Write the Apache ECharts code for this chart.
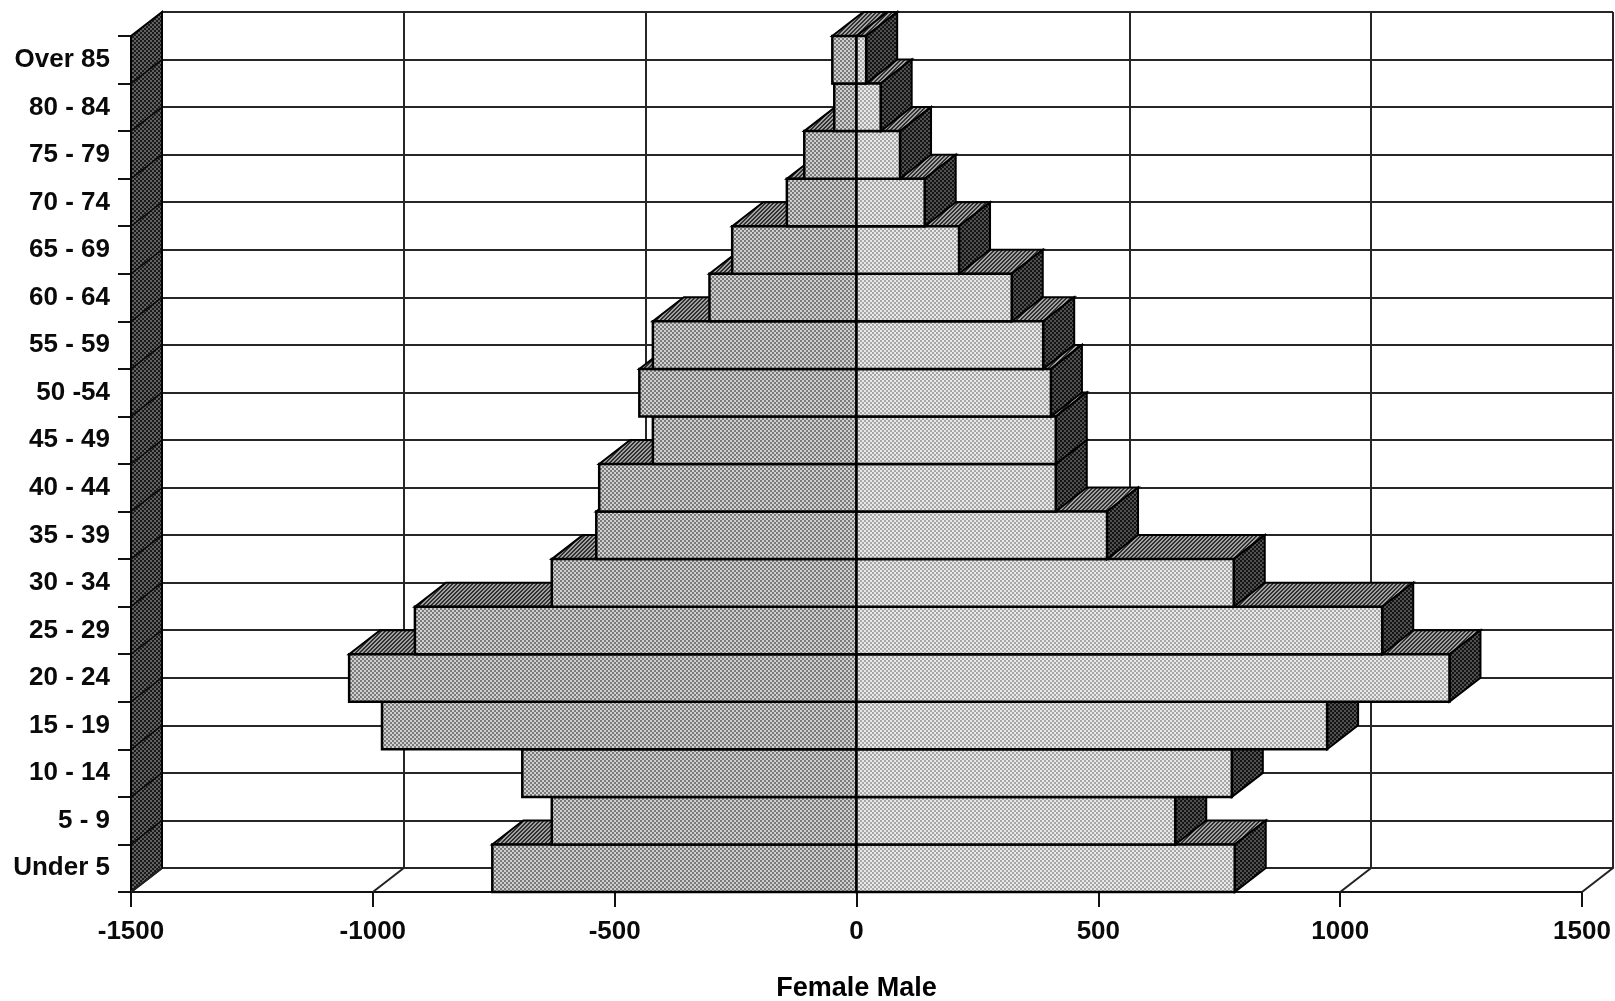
<!DOCTYPE html>
<html>
<head>
<meta charset="utf-8">
<title>Population by age and sex</title>
<script src="https://cdn.jsdelivr.net/npm/echarts@6/dist/echarts.min.js"></script>
<style>
  html, body { margin: 0; padding: 0; background: #fff; }
  #chart { width: 1615px; height: 1001px; }
</style>
</head>
<body>
<div id="chart"></div>
<script>
// Age groups, listed from the bottom row to the top row
const ageGroups = ['Under 5', '5 - 9', '10 - 14', '15 - 19', '20 - 24', '25 - 29',
  '30 - 34', '35 - 39', '40 - 44', '45 - 49', '50 -54', '55 - 59', '60 - 64',
  '65 - 69', '70 - 74', '75 - 79', '80 - 84', 'Over 85'];

// Female counts are plotted to the left of zero
const female = [-753, -630, -691, -981, -1049, -913, -630, -538, -532, -421,
  -449, -421, -304, -257, -144, -108, -46, -50];

const male = [782, 659, 776, 973, 1226, 1087, 780, 518, 412, 412,
  402, 386, 321, 212, 141, 90, 50, 20];

const xTicks = [-1500, -1000, -500, 0, 500, 1000, 1500];

// Oblique projection of the depth axis (pixels)
const DEPTH_DX = 31;
const DEPTH_DY = -24;

const FONT = '"Liberation Sans", Arial, Helvetica, sans-serif';

// Halftone-like fills built from tiny canvas tiles
function checker(dark, light, cell) {
  const cv = document.createElement('canvas');
  cv.width = cv.height = cell * 2;
  const ctx = cv.getContext('2d');
  ctx.fillStyle = light; ctx.fillRect(0, 0, cell * 2, cell * 2);
  ctx.fillStyle = dark;
  ctx.fillRect(0, 0, cell, cell);
  ctx.fillRect(cell, cell, cell, cell);
  return { image: cv, repeat: 'repeat' };
}
function hatch(dark, light) {
  const n = 4;
  const cv = document.createElement('canvas');
  cv.width = cv.height = n;
  const ctx = cv.getContext('2d');
  ctx.fillStyle = light; ctx.fillRect(0, 0, n, n);
  ctx.fillStyle = dark;
  for (let i = 0; i < n; i++) {
    ctx.fillRect(i, n - 1 - i, 1, 1);
    ctx.fillRect((i + 1) % n, n - 1 - i, 1, 1);
  }
  return { image: cv, repeat: 'repeat' };
}

const fillFemale = checker('#7a7a7a', '#d0d0d0', 2);
const fillMale = checker('#a6a6a6', '#e8e8e8', 2);
const fillTop = hatch('#303030', '#a0a0a0');
const fillSide = checker('#141414', '#505050', 2);
const fillWall = checker('#1a1a1a', '#606060', 2);

const EDGE = '#000';

function bandBounds(api, idx) {
  const h = api.size([0, 1])[1];
  const c = api.coord([0, idx]);
  return [c[1] - h / 2, c[1] + h / 2];
}

function renderBar(isMale) {
  return function (params, api) {
    const v = api.value(0);
    const idx = api.value(1);
    const [yt, yb] = bandBounds(api, idx);
    const x0 = api.coord([0, idx])[0];
    const x1 = api.coord([v, idx])[0];
    const xa = Math.min(x0, x1), xb = Math.max(x0, x1);
    const z = params.dataIndex * 4;
    const children = [
      {
        type: 'polygon', z2: z,
        shape: { points: [[xa, yt], [xb, yt], [xb + DEPTH_DX, yt + DEPTH_DY], [xa + DEPTH_DX, yt + DEPTH_DY]] },
        style: { fill: fillTop, stroke: EDGE, lineWidth: 2, lineJoin: 'miter' }
      },
      {
        type: 'rect', z2: z + 2,
        shape: { x: xa, y: yt, width: xb - xa, height: yb - yt },
        style: { fill: isMale ? fillMale : fillFemale, stroke: EDGE, lineWidth: 2.5 }
      }
    ];
    if (isMale) {
      children.push({
        type: 'polygon', z2: z + 1,
        shape: { points: [[xb, yt], [xb, yb], [xb + DEPTH_DX, yb + DEPTH_DY], [xb + DEPTH_DX, yt + DEPTH_DY]] },
        style: { fill: fillSide, stroke: EDGE, lineWidth: 2 }
      });
    }
    return { type: 'group', children: children };
  };
}

// Side wall on the left and floor lines running back from each tick
function renderFrame(params, api) {
  const n = ageGroups.length;
  const top = bandBounds(api, n - 1)[0];
  const bottom = bandBounds(api, 0)[1];
  const h = api.size([0, 1])[1];
  const xl = api.coord([xTicks[0], 0])[0];
  const children = [{
    type: 'polygon',
    shape: { points: [[xl, top], [xl + DEPTH_DX, top + DEPTH_DY], [xl + DEPTH_DX, bottom + DEPTH_DY], [xl, bottom]] },
    style: { fill: fillWall, stroke: EDGE, lineWidth: 2 }
  }];
  for (let k = 1; k < n; k++) {
    const y = bottom - k * h;
    children.push({
      type: 'line',
      shape: { x1: xl, y1: y, x2: xl + DEPTH_DX, y2: y + DEPTH_DY },
      style: { stroke: '#0a0a0a', lineWidth: 1.5 }
    });
  }
  xTicks.forEach(function (t) {
    const x = api.coord([t, 0])[0];
    children.push({
      type: 'line',
      shape: { x1: x, y1: bottom, x2: x + DEPTH_DX, y2: bottom + DEPTH_DY },
      style: { stroke: '#222', lineWidth: 2 }
    });
  });
  return { type: 'group', children: children };
}

const axisLine = { color: '#111', width: 2 };
const gridLine = { color: '#262626', width: 2 };

const chart = echarts.init(document.getElementById('chart'), null, { renderer: 'canvas' });

chart.setOption({
  animation: false,
  backgroundColor: '#ffffff',
  textStyle: { fontFamily: FONT },
  grid: [
    { left: 131, top: 36, width: 1451, height: 856, outerBoundsMode: 'none' },
    { left: 131 + DEPTH_DX, top: 36 + DEPTH_DY, width: 1451, height: 856, outerBoundsMode: 'none' }
  ],
  xAxis: [
    {
      gridIndex: 0, type: 'value', min: -1500, max: 1500, interval: 500,
      axisLine: { show: true, onZero: false, lineStyle: axisLine },
      axisTick: { show: true, length: 15, lineStyle: axisLine },
      axisLabel: {
        show: true, margin: 27, fontSize: 26, fontWeight: 'bold', color: '#0a0a0a', fontFamily: FONT,
        formatter: function (v) { return String(v); }
      },
      splitLine: { show: false },
      name: 'Female Male', nameLocation: 'middle', nameGap: 83,
      nameTextStyle: { fontSize: 27, fontWeight: 'bold', color: '#000', fontFamily: FONT }
    },
    {
      gridIndex: 1, type: 'value', min: -1500, max: 1500, interval: 500,
      axisLine: { show: true, onZero: false, lineStyle: gridLine },
      axisTick: { show: false }, axisLabel: { show: false },
      splitLine: { show: true, lineStyle: gridLine }
    }
  ],
  yAxis: [
    {
      gridIndex: 0, type: 'category', data: ageGroups,
      axisLine: { show: true, onZero: false, lineStyle: axisLine },
      axisTick: { show: true, length: 13, lineStyle: axisLine },
      axisLabel: {
        show: true, interval: 0, margin: 21, fontSize: 26, fontWeight: 'bold', color: '#0a0a0a', fontFamily: FONT
      },
      splitLine: { show: false }
    },
    {
      gridIndex: 1, type: 'category', data: ageGroups,
      axisLine: { show: true, onZero: false, lineStyle: gridLine },
      axisTick: { show: false }, axisLabel: { show: false },
      splitLine: { show: true, interval: 0, lineStyle: gridLine }
    }
  ],
  series: [
    {
      name: 'frame', type: 'custom', xAxisIndex: 0, yAxisIndex: 0,
      silent: true, z: 1,
      data: [[0, 0]],
      encode: { x: 0, y: 1 },
      renderItem: renderFrame
    },
    {
      name: 'Female', type: 'custom', xAxisIndex: 0, yAxisIndex: 0, z: 3,
      data: female.map(function (v, i) { return [v, i]; }),
      encode: { x: 0, y: 1 },
      renderItem: renderBar(false)
    },
    {
      name: 'Male', type: 'custom', xAxisIndex: 0, yAxisIndex: 0, z: 4,
      data: male.map(function (v, i) { return [v, i]; }),
      encode: { x: 0, y: 1 },
      renderItem: renderBar(true)
    }
  ]
});
</script>
</body>
</html>
